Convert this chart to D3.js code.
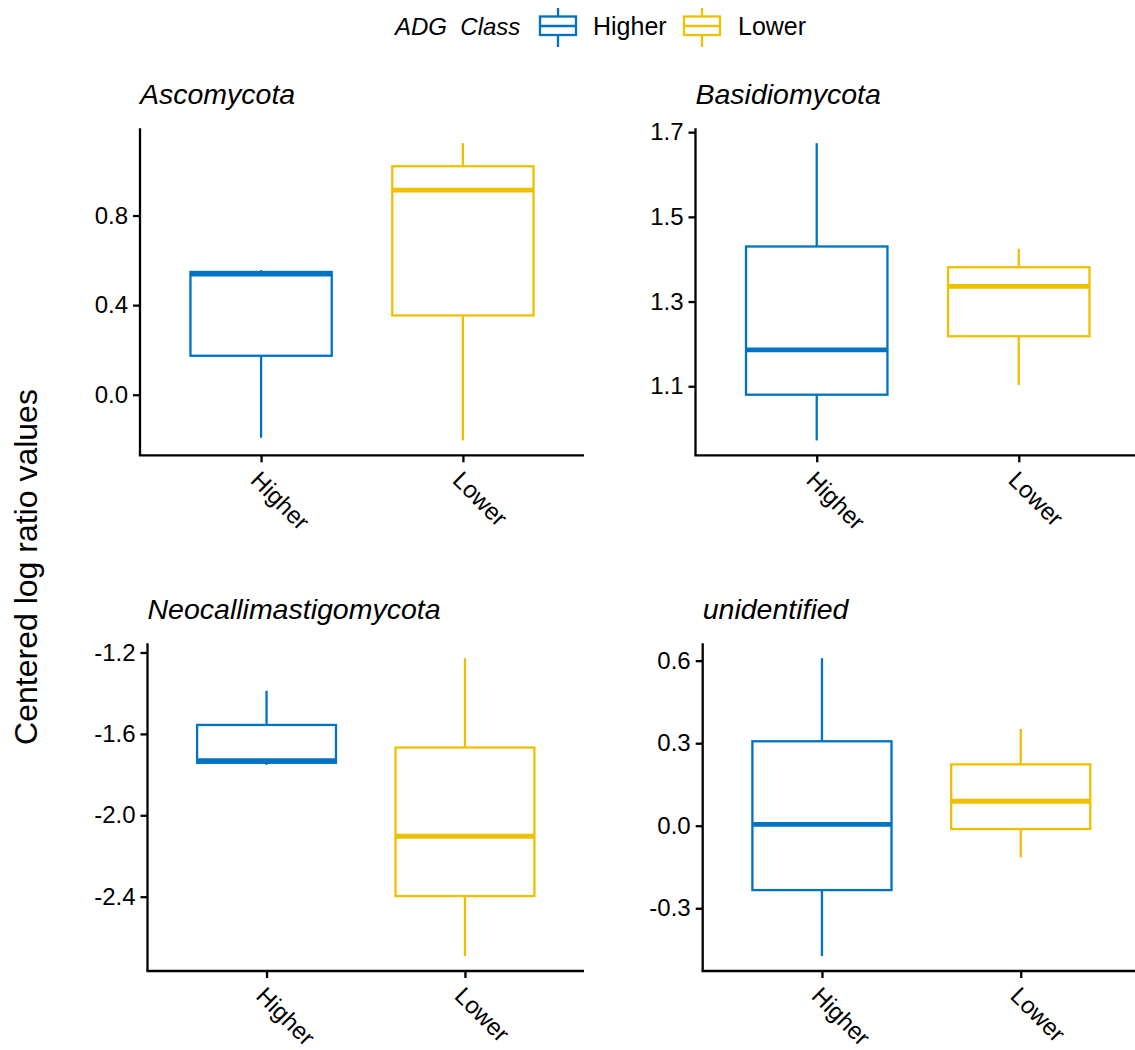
<!DOCTYPE html>
<html><head><meta charset="utf-8">
<script src="https://cdn.jsdelivr.net/npm/d3@7"></script>
<style>
html,body{margin:0;padding:0;background:#fff;}
svg{display:block;font-family:"Liberation Sans",Arial,Helvetica,sans-serif;}
</style></head>
<body>
<svg id="chart" width="1135" height="1050"></svg>
<script>
// ---- data ----
const categories = ["Higher", "Lower"];
const panelTitles = ["Ascomycota", "Basidiomycota", "Neocallimastigomycota", "unidentified"];
// five-number summaries [min, q1, median, q3, max] per panel
const higherStats = [
  [-0.192, 0.174, 0.539, 0.548, 0.556],
  [0.972, 1.080, 1.186, 1.430, 1.674],
  [-1.752, -1.742, -1.732, -1.556, -1.388],
  [-0.474, -0.234, 0.005, 0.307, 0.609]
];
const lowerStats = [
  [-0.204, 0.354, 0.913, 1.020, 1.123],
  [1.103, 1.218, 1.336, 1.381, 1.425],
  [-2.692, -2.397, -2.103, -1.667, -1.228],
  [-0.115, -0.012, 0.089, 0.223, 0.352]
];
const yTickValues = [
  [0.0, 0.4, 0.8],
  [1.1, 1.3, 1.5, 1.7],
  [-2.4, -2.0, -1.6, -1.2],
  [-0.3, 0.0, 0.3, 0.6]
];
const yTickLabels = [
  ["0.0", "0.4", "0.8"],
  ["1.1", "1.3", "1.5", "1.7"],
  ["-2.4", "-2.0", "-1.6", "-1.2"],
  ["-0.3", "0.0", "0.3", "0.6"]
];
const legendTitle = "ADG  Class";
const yAxisTitle = "Centered log ratio values";
const colors = ["#0073C2", "#EFC000"];

// ---- layout ----
const panelBoxes = [
  {x0: 140, x1: 584, y0: 128.3, y1: 455.3},
  {x0: 695.5, x1: 1140, y0: 128.3, y1: 455.3},
  {x0: 147.5, x1: 584, y0: 643.3, y1: 971},
  {x0: 702.7, x1: 1140, y0: 643.3, y1: 971}
];

const svg = d3.select("#chart");
const color = d3.scaleOrdinal().domain(categories).range(colors);

panelTitles.forEach((title, i) => {
  const b = panelBoxes[i];
  const g = svg.append("g");
  const stats = [higherStats[i], lowerStats[i]];
  const all = stats.flat();
  const lo = d3.min(all), hi = d3.max(all), pad = (hi - lo) * 0.05;
  const y = d3.scaleLinear().domain([lo - pad, hi + pad]).range([b.y1, b.y0]);
  const x = d3.scalePoint().domain(categories).range([b.x0, b.x1]).padding(0.6);
  const bw = x.step() * 0.7;

  // boxes
  categories.forEach((cat, j) => {
    const s = stats[j];
    const cx = x(cat);
    const c = color(cat);
    const bg = g.append("g").attr("fill", "none").attr("stroke", c);
    bg.append("line").attr("x1", cx).attr("x2", cx).attr("y1", y(s[4])).attr("y2", y(s[3])).attr("stroke-width", 2.3);
    bg.append("line").attr("x1", cx).attr("x2", cx).attr("y1", y(s[1])).attr("y2", y(s[0])).attr("stroke-width", 2.3);
    bg.append("rect").attr("x", cx - bw / 2).attr("width", bw)
      .attr("y", y(s[3])).attr("height", y(s[1]) - y(s[3])).attr("stroke-width", 2.3);
    bg.append("line").attr("x1", cx - bw / 2).attr("x2", cx + bw / 2)
      .attr("y1", y(s[2])).attr("y2", y(s[2])).attr("stroke-width", 4.8);
  });

  // y axis
  const yAxis = d3.axisLeft(y).tickValues(yTickValues[i])
    .tickFormat((d, k) => yTickLabels[i][k]).tickSize(7).tickPadding(5);
  const ya = g.append("g").attr("transform", `translate(${b.x0},0)`).call(yAxis);
  ya.select(".domain").attr("d", `M0,${b.y0}V${b.y1}`).attr("stroke", "#000").attr("stroke-width", 2.3);
  ya.selectAll(".tick line").attr("stroke", "#000").attr("stroke-width", 2.3);
  ya.selectAll(".tick text").attr("fill", "#000").style("font-size", "24px").attr("font-family", null);

  // x axis
  const xAxis = d3.axisBottom(x).tickSize(7).tickFormat("");
  const xa = g.append("g").attr("transform", `translate(0,${b.y1})`).call(xAxis);
  xa.select(".domain").attr("d", `M${b.x0 - 1.15},0H${b.x1}`).attr("stroke", "#000").attr("stroke-width", 2.3);
  xa.selectAll(".tick line").attr("stroke", "#000").attr("stroke-width", 2.3);
  xa.selectAll(".tick").append("text")
    .attr("transform", "translate(0,14) rotate(45)")
    .attr("text-anchor", "start").attr("dy", "0.72em")
    .attr("fill", "#000").style("font-size", "24px")
    .text(d => d);

  // title
  g.append("text").attr("x", b.x0).attr("y", b.y0 - 24)
    .style("font-size", "28.5px").style("font-style", "italic").attr("fill", "#000")
    .text(title);
});

// y axis title
svg.append("text").attr("transform", "translate(37,567) rotate(-90)")
  .attr("text-anchor", "middle").style("font-size", "32px").attr("fill", "#000")
  .text(yAxisTitle);

// legend
const leg = svg.append("g");
leg.append("text").attr("x", 395).attr("y", 35).style("font-size", "24px")
  .style("font-style", "italic").style("white-space", "pre").attr("fill", "#000").text(legendTitle);
const legendKeys = [{cat: categories[0], x: 540, tx: 593}, {cat: categories[1], x: 684, tx: 738}];
legendKeys.forEach(k => {
  const c = color(k.cat);
  const kg = leg.append("g").attr("stroke", c).attr("fill", "none").attr("stroke-width", 2.3);
  const cx = k.x + 18;
  kg.append("line").attr("x1", cx).attr("x2", cx).attr("y1", 8).attr("y2", 16.5);
  kg.append("line").attr("x1", cx).attr("x2", cx).attr("y1", 35).attr("y2", 47);
  kg.append("rect").attr("x", k.x).attr("y", 16.5).attr("width", 36).attr("height", 18.5);
  kg.append("line").attr("x1", k.x).attr("x2", k.x + 36).attr("y1", 26).attr("y2", 26);
  leg.append("text").attr("x", k.tx).attr("y", 35).style("font-size", "25px").attr("fill", "#000").text(k.cat);
});
</script>
</body></html>
